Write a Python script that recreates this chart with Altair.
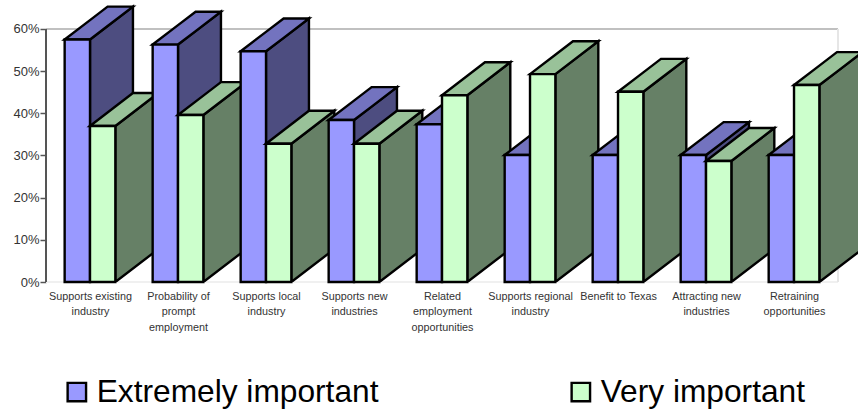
import altair as alt
import pandas as pd

# Survey results, per cent of respondents
categories = [
    "Supports existing|industry",
    "Probability of|prompt|employment",
    "Supports local|industry",
    "Supports new|industries",
    "Related|employment|opportunities",
    "Supports regional|industry",
    "Benefit to Texas",
    "Attracting new|industries",
    "Retraining|opportunities",
]
extremely = [57.5, 56.3, 54.7, 38.4, 37.4, 30.1, 30.1, 30.1, 30.1]
very = [37.0, 39.6, 32.8, 32.8, 44.3, 49.3, 45.1, 28.7, 46.7]

series_names = ["Extremely important", "Very important"]
front_colors = ["#9999FF", "#CCFFCC"]
top_colors = ["#7373BF", "#99C299"]
side_colors = ["#4D4D80", "#668066"]

# Bar proportions in data units
BAR_W = 0.288
DEPTH_X = 0.488
DEPTH_Y = 7.8
OUTLINE = 2.4

x_scale = alt.Scale(domain=[-0.5, 8.727], nice=False, zero=False)
y_scale = alt.Scale(domain=[0, 66.87], nice=False, zero=False)
color_scale = alt.Scale(domain=series_names, range=front_colors)

label_list = "[" + ",".join(f"'{c}'" for c in categories) + "]"
x_axis = alt.Axis(
    values=list(range(len(categories))),
    labelExpr=f"split({label_list}[round(datum.value)], '|')",
    domain=False, ticks=False, grid=False, title=None,
    labelFont="Liberation Sans", labelFontSize=10.8, labelColor="#333333",
    labelLineHeight=15.5, labelPadding=8, labelOverlap=False, labelFlush=False,
    labelAngle=0, labelLimit=200, labelBaseline="top", labelAlign="center",
)
y_axis = alt.Axis(
    values=[0, 10, 20, 30, 40, 50, 60],
    labelExpr="datum.value + '%'",
    domain=False, grid=False, title=None,
    labelFont="Liberation Sans", labelFontSize=13, labelColor="#333333",
    labelPadding=1, tickSize=6, tickWidth=1.5, tickColor="#555555",
)
legend = alt.Legend(
    orient="none", legendX=15, legendY=376, columns=2, columnPadding=186,
    title=None, padding=0, symbolType="square", symbolSize=340,
    symbolStrokeColor="black", symbolStrokeWidth=2.4, symbolOpacity=1,
    labelFont="Liberation Sans", labelFontSize=31.7, labelColor="black",
    labelOffset=4, labelLimit=400, rowPadding=0,
)

X = alt.X("x:Q", scale=x_scale, axis=x_axis)
Y = alt.Y("y:Q", scale=y_scale, axis=y_axis)


def frame_line(x, x2, y, y2, color, width=2):
    rows = pd.DataFrame({"x": [x], "x2": [x2], "y": [y], "y2": [y2]})
    return alt.Chart(rows).mark_rule(color=color, strokeWidth=width).encode(
        x=X, x2="x2:Q", y=Y, y2="y2:Q"
    )


# Light frame behind the bars, with the dark value axis on the left
layers = [
    frame_line(-0.5, 8.5, 60, 60, "#C0C0C0"),
    frame_line(-0.5, 8.5, 0, 0, "#F0F0F0"),
    frame_line(8.5, 8.5, 0, 60, "#E6E6E6"),
    frame_line(-0.5, -0.5, 0, 60, "#555555"),
]


def side_face(x0, v, color):
    x1 = x0 + BAR_W
    rows = pd.DataFrame({
        "x": [x1, x1 + DEPTH_X],
        "y": [v, v + DEPTH_Y],
        "y2": [0, DEPTH_Y],
    })
    return alt.Chart(rows).mark_area(
        color=color, stroke="black", strokeWidth=OUTLINE, clip=True,
        strokeJoin="miter", opacity=1,
    ).encode(x=X, y=Y, y2="y2:Q")


def top_face(x0, v, color):
    slope = DEPTH_Y / DEPTH_X
    rows = pd.DataFrame({
        "x": [x0, x0 + BAR_W, x0 + DEPTH_X, x0 + BAR_W + DEPTH_X],
        "y": [v, v + slope * BAR_W, v + DEPTH_Y, v + DEPTH_Y],
        "y2": [v, v, v + slope * (DEPTH_X - BAR_W), v + DEPTH_Y],
    })
    return alt.Chart(rows).mark_area(
        color=color, stroke="black", strokeWidth=OUTLINE, clip=True,
        strokeJoin="miter", opacity=1,
    ).encode(x=X, y=Y, y2="y2:Q")


def front_face(x0, v, name):
    rows = pd.DataFrame({
        "x": [x0], "x2": [x0 + BAR_W], "y": [v], "y2": [0], "series": [name],
    })
    return alt.Chart(rows).mark_rect(
        stroke="black", strokeWidth=OUTLINE, opacity=1,
    ).encode(
        x=X, x2="x2:Q", y=Y, y2="y2:Q",
        color=alt.Color("series:N", scale=color_scale, legend=legend),
    )


# Painted left to right so nearer columns overlap the depth of earlier ones
for i in range(len(categories)):
    for s, values in enumerate([extremely, very]):
        x0 = i - BAR_W + s * BAR_W
        v = values[i]
        layers.append(side_face(x0, v, side_colors[s]))
        layers.append(top_face(x0, v, top_colors[s]))
        layers.append(front_face(x0, v, series_names[s]))

chart = alt.layer(*layers).properties(
    width=812, height=282,
    padding={"left": 46, "top": 0, "right": 0, "bottom": 129},
    autosize=alt.AutoSizeParams(type="none"),
    background="white",
).configure_view(stroke=None)

chart.save("out.html", embed_options={"renderer": "svg", "actions": False})
